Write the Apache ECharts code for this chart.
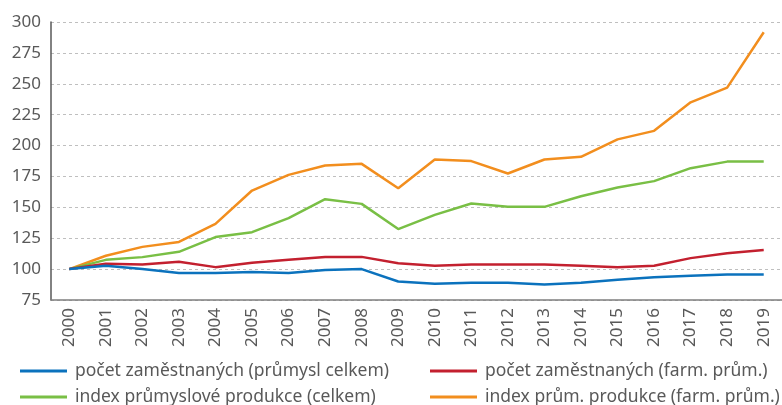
<!DOCTYPE html>
<html>
<head>
<meta charset="utf-8">
<script src="https://cdn.jsdelivr.net/npm/echarts@6/dist/echarts.min.js"></script>
<style>
  html, body { margin: 0; padding: 0; background: #fff; }
  #chart { width: 782px; height: 405px; }
</style>
</head>
<body>
<div id="chart"></div>
<script>
const years = ['2000', '2001', '2002', '2003', '2004', '2005', '2006', '2007', '2008', '2009',
  '2010', '2011', '2012', '2013', '2014', '2015', '2016', '2017', '2018', '2019']

// počet zaměstnaných (průmysl celkem)
const empTotal = [100, 102.7, 100, 96.8, 96.8, 97.6, 96.8, 99.2, 100, 90,
  88.1, 88.9, 88.9, 87.6, 88.9, 91.3, 93.5, 94.6, 95.6, 95.6]
// počet zaměstnaných (farm. prům.)
const empPharma = [100, 104.3, 103.7, 105.9, 101.6, 105.1, 107.5, 109.9, 109.9, 104.8,
  102.7, 103.7, 103.7, 103.7, 102.7, 101.6, 102.7, 108.9, 112.9, 115.4]
// index průmyslové produkce (celkem)
const prodTotal = [100, 107.5, 109.7, 114, 125.9, 129.9, 141.3, 156.6, 152.8, 132.4,
  143.9, 153.1, 150.4, 150.4, 159, 166, 171.2, 181.7, 187, 187]
// index prům. produkce (farm. prům.)
const prodPharma = [100, 110.8, 118, 122, 136.6, 163.6, 176.3, 183.8, 185.2, 165.5,
  188.7, 187.4, 177.4, 188.7, 190.9, 205, 211.9, 235, 246.9, 291.7]

const names = [
  'počet zaměstnaných (průmysl celkem)',
  'počet zaměstnaných (farm. prům.)',
  'index průmyslové produkce (celkem)',
  'index prům. produkce (farm. prům.)'
]
const colors = ['#0b72bd', '#c3202f', '#79bf45', '#f28e1e']
const values = [empTotal, empPharma, prodTotal, prodPharma]

const font = 'Noto Sans'
const textColor = '#595959'

const chart = echarts.init(document.getElementById('chart'))

// one legend per item so the 2x2 block doesn't wrap
function makeLegend(left, top, name) {
  return {
    left: left,
    top: top,
    padding: 0,
    icon: 'rect',
    itemWidth: 47,
    itemHeight: 3,
    data: [name],
    textStyle: {
      fontFamily: font, fontSize: 17.5, lineHeight: 20, color: textColor, padding: [0, 0, 0, 3]
    }
  }
}

chart.setOption({
  animation: false,
  grid: { left: 51, top: 22, width: 733, bottom: 105 },
  legend: [
    makeLegend(20, 361, names[0]),
    makeLegend(430, 361, names[1]),
    makeLegend(20, 387, names[2]),
    makeLegend(430, 387, names[3])
  ],
  xAxis: {
    type: 'category',
    data: years,
    boundaryGap: true,
    axisLine: { lineStyle: { color: '#7f7f7f', width: 1.5 } },
    axisTick: { show: false },
    axisLabel: {
      rotate: 90, margin: 8, fontFamily: font, fontSize: 17, color: textColor, interval: 0
    }
  },
  yAxis: {
    type: 'value',
    min: 75,
    max: 300,
    interval: 25,
    axisLine: { show: true, lineStyle: { color: '#595959', width: 1.5 } },
    axisTick: { show: false },
    axisLabel: { margin: 10, fontFamily: font, fontSize: 17, color: textColor },
    splitLine: { lineStyle: { color: '#bfbfbf', type: [3, 3], width: 1 } }
  },
  series: values.map((v, i) => ({
    name: names[i],
    type: 'line',
    data: v,
    symbol: 'none',
    color: colors[i],
    lineStyle: { width: 2.5, color: colors[i] },
    z: 10 - i
  }))
})
</script>
</body>
</html>
